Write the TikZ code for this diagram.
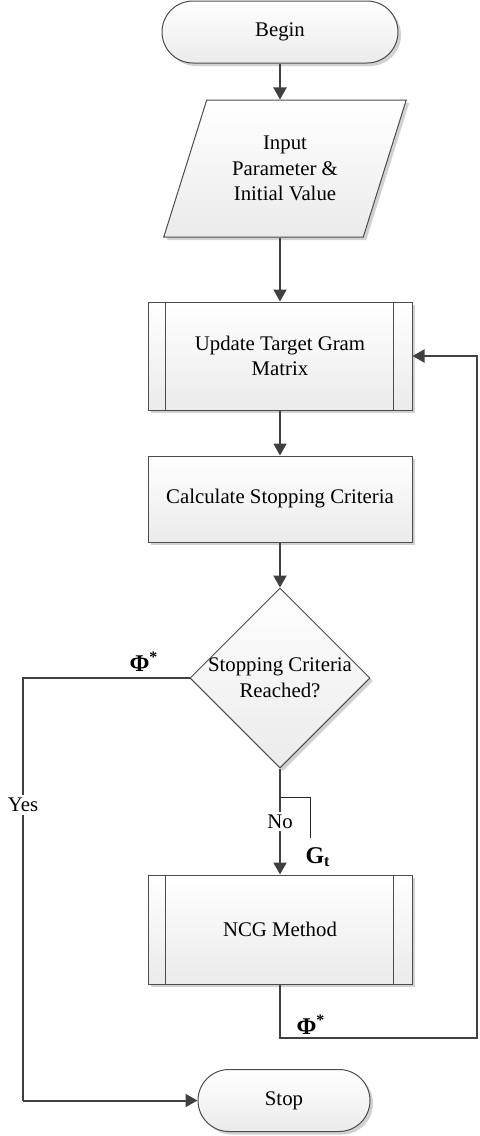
\documentclass[tikz,border=0pt]{standalone}
\usepackage{fontspec}
\setmainfont{Liberation Serif}
\usetikzlibrary{shapes.geometric,shapes.misc,arrows.meta,shadows}

\begin{document}
\begin{tikzpicture}[x=.5pt, y=-.5pt,
    every node/.style={font=\fontsize{10.4}{12.8}\selectfont, align=center},
    box/.style={draw=black!70, line width=.5pt, top color=white, bottom color=gray!16,
        drop shadow={shadow xshift=1.5pt, shadow yshift=-1.5pt, fill=black, opacity=.18},
        inner sep=0pt},
    term/.style={box, rounded rectangle, minimum height=31pt},
    io/.style={box, trapezium, trapezium left angle=66, trapezium right angle=114,
        trapezium stretches=true, minimum width=121.5pt, minimum height=68.5pt},
    proc/.style={box, rectangle, minimum width=132pt},
    dec/.style={box, diamond, aspect=1, minimum width=90pt, minimum height=90pt},
    arr/.style={draw=black!75, line width=1pt, -{Triangle[length=6pt, width=6.5pt]}},
    wire/.style={draw=black!75, line width=1pt},
    tag/.style={font=\fontsize{12}{12}\selectfont\bfseries}
        ]

    \useasboundingbox (0,0) rectangle (479,1136);

    % blocks of the flow chart
    \node [term, minimum width=118pt] (begin) at (280,32) {Begin};
    \node [io] (input) at (285,168.5) {Input\\Parameter \&\\Initial Value};
    \node [proc, minimum height=54pt] (update) at (280,356) {Update Target Gram\\Matrix};
    \node [proc, minimum height=43pt] (calc) at (280,499) {Calculate Stopping Criteria};
    \node [dec] (crit) at (280,678) {};
    \node (crittext) at (crit.center) {Stopping Criteria\\Reached?};
    \node [proc, minimum height=54.5pt] (ncg) at (280,929.5) {NCG Method};
    \node [term, minimum width=86pt] (stop) at (284,1100.5) {Stop};

    % side bars of the sub-process boxes
    \foreach \n in {update, ncg} {
        \draw [draw=black!70, line width=.5pt] ([xshift=9pt]\n.north west) -- ([xshift=9pt]\n.south west);
        \draw [draw=black!70, line width=.5pt] ([xshift=-9.5pt]\n.north east) -- ([xshift=-9.5pt]\n.south east);
    }

    \coordinate (lcorner) at (23,1100.5);
    \coordinate (rcorner) at (477,1038);
    \coordinate (gt1) at (280,797);
    \coordinate (gt2) at (310,838);

    % connectors
    \draw [arr] (begin.south) -- (begin.south |- input.north);
    \draw [arr] (update.north |- input.south) -- (update.north);
    \draw [arr] (update) -- (calc);
    \draw [arr] (calc) -- (crit);
    \draw [arr] (crit) -- node [fill=white, inner sep=1.5pt] (no) {No} (ncg);
    \draw [draw=black!85, line width=.5pt] (gt1) -| (gt2);
    \draw [wire] (crit.west) -| (lcorner);
    \draw [arr] (lcorner) -- (stop.west);
    \draw [arr] (ncg.south) |- (rcorner) |- (update.east);

    % labels
    \node [fill=white, inner sep=1.5pt] (yes) at (23,805) {Yes};
    \node [tag] (phiyes) at (144,662) {Φ\textsuperscript{*}};
    \node [tag] (gt) at (318,857) {G\textsubscript{t}};
    \node [tag] (philoop) at (311,1025) {Φ\textsuperscript{*}};

\end{tikzpicture}
\end{document}
